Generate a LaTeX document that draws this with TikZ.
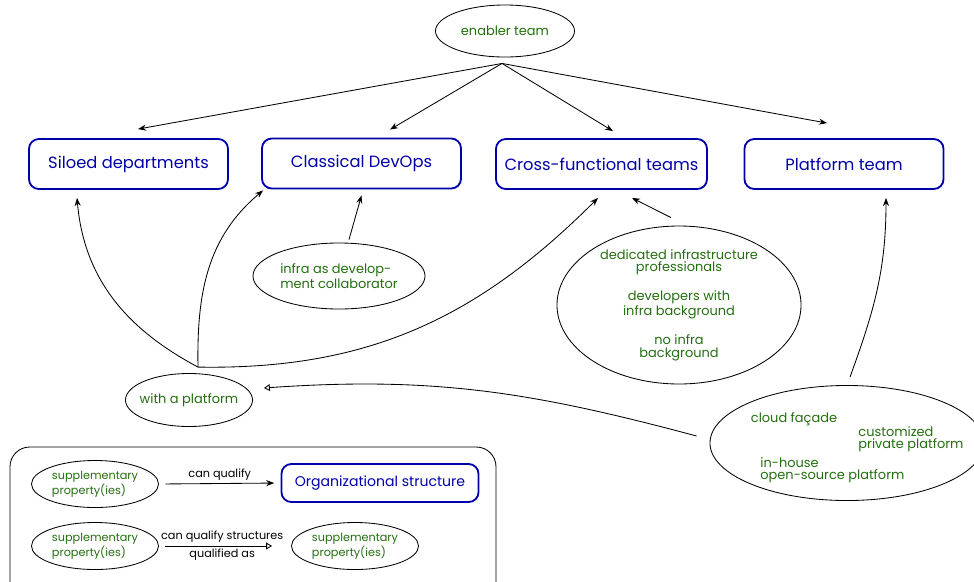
\documentclass[tikz,border=0pt]{standalone}
\usepackage{fontspec}
\setmainfont{Poppins}
\usetikzlibrary{arrows.meta, shapes.geometric}
\definecolor{teamblue}{RGB}{0,0,170}
\definecolor{propgreen}{RGB}{35,110,15}

\begin{document}
\begin{tikzpicture}[
    x=0.025cm, y=-0.025cm,
    >=Stealth,
    every path/.style={line width=0.6pt},
    structure/.style={draw=teamblue, text=teamblue, line width=1.3pt, rounded corners=7pt,
      minimum width=4.975cm, minimum height=1.25cm, font=\fontsize{11.6}{13}\selectfont},
    prop/.style={draw, ellipse, inner sep=0pt, text=propgreen, align=center,
      font=\fontsize{9.2}{8.8}\selectfont},
    proptext/.style={text=propgreen, font=\fontsize{9.2}{8.8}\selectfont, align=left, inner sep=0pt},
    legprop/.style={prop, align=left, minimum width=3.175cm, minimum height=1.175cm,
      font=\fontsize{8}{7.8}\selectfont},
    leglabel/.style={font=\fontsize{8}{8}\selectfont, inner sep=2pt}
  ]
  \useasboundingbox (0,0) rectangle (974,581);

  % Organizational structures
  \node[structure] (siloed)    at (128.5,164) {Siloed departments};
  \node[structure] (classical) at (361.5,163.5) {Classical DevOps};
  \node[structure, minimum width=5.275cm] (cross) at (601.5,164) {Cross-functional teams};
  \node[structure] (platform)  at (844,164) {Platform team};

  % Supplementary properties
  \node[prop, minimum width=3.475cm, minimum height=1.3cm] (enabler) at (505,31) {enabler team};
  \node[prop, align=left, minimum width=4.3cm, minimum height=1.65cm] (infra) at (339,276)
    {infra as develop-\\ment collaborator};
  \node[prop, inner xsep=-8pt, minimum width=3.175cm, minimum height=1.325cm] (withplat) at (189,400) {with a platform};
  \node[prop, minimum width=6.1cm, minimum height=3.6cm] (dedicated) at (679,305)
    {dedicated infrastructure\\professionals\\[10.5pt]developers with\\infra background\\[10.5pt]no infra\\background};
  \node[prop, minimum width=6.85cm, minimum height=2.875cm] (cloud) at (847,443) {};
  \node[proptext] (facade) at (794,419) {cloud façade};
  \node[proptext, anchor=west] (custom) at (858,439) {customized\\private platform};
  \node[proptext, anchor=west] (inhouse) at (760,470) {in-house\\open-source platform};

  % Enabler team arrows
  \coordinate (esrc) at ([shift={(-3,6)}]enabler.south);
  \draw[->] (esrc) -- ([shift={(9.5,-9)}]siloed.north);
  \draw[->] (esrc) -- ([shift={(28.5,-8)}]classical.north);
  \draw[->] (esrc) -- ([shift={(11.5,-7)}]cross.north);
  \draw[->] (esrc) -- ([shift={(-17,-15)}]platform.north);

  % Qualifying arrows
  \draw[->] ([shift={(10,-3)}]infra.north) -- ([shift={(0,6)}]classical.south);
  \draw[->] ([shift={(-8,-8)}]dedicated.north) -- ([shift={(30.5,8)}]cross.south);
  \coordinate (wp) at ([shift={(9,-6)}]withplat.north);
  \draw[->] (wp) to[out=152, in=-85] ([shift={(-51.5,8)}]siloed.south);
  \draw[->] (wp) to[out=91, in=-140] ([shift={(2,1)}]classical.south west);
  \draw[->] (wp) to[out=-1, in=-135] ([shift={(-3.5,8)}]cross.south);
  \draw[->] ([shift={(3,-8)}]cloud.north) to[out=70, in=-90] ([shift={(42,8)}]platform.south);
  \draw[-{Triangle[open]}] ([shift={(-13,-7)}]cloud.west) to[out=165, in=4] ([shift={(11,-12)}]withplat.east);

  % Legend
  \draw[rounded corners=14pt] (10,447) rectangle (496,610);
  \node[legprop] (leg1) at (95,484) {supplementary\\property(ies)};
  \node[structure, minimum width=4.925cm, minimum height=0.95cm, font=\fontsize{10}{12}\selectfont] (legorg) at (380,483)
    {Organizational structure};
  \node[legprop] (leg2) at (95,546) {supplementary\\property(ies)};
  \node[legprop] (leg3) at (355,546) {supplementary\\property(ies)};
  \draw[->, shorten <=4.5pt, shorten >=4.5pt] (leg1.east) -- node[leglabel, above] {can qualify} (legorg.west);
  \draw[-{Triangle[open]}, shorten <=4.5pt, shorten >=13.5pt] (leg2.east) --
    node[leglabel, above, xshift=-2pt] {can qualify structures}
    node[leglabel, below, xshift=-2pt] {qualified as} (leg3.west);
\end{tikzpicture}
\end{document}
